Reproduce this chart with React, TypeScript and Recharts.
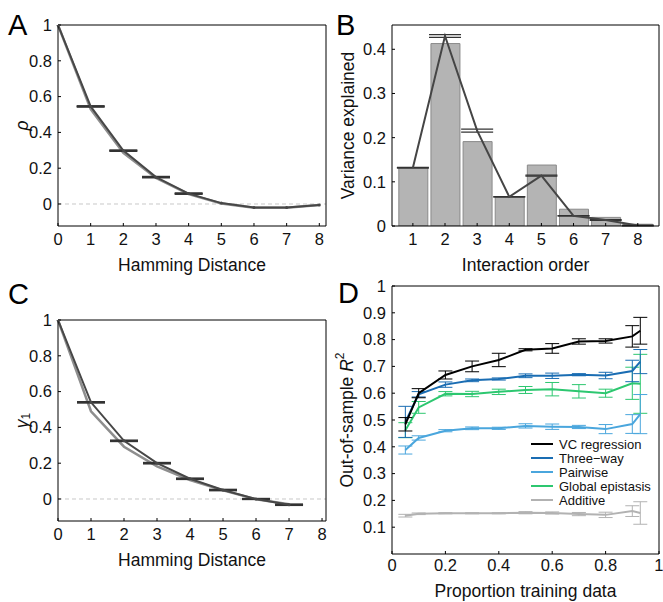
import React from 'react';
import { Bar, ComposedChart, ErrorBar, Line, LineChart, ReferenceLine, XAxis, YAxis } from 'recharts';

const FONT = '"Liberation Sans", Arial, Helvetica, sans-serif';

// Panel A: correlation vs Hamming distance
const hammingA = [0, 1, 2, 3, 4, 5, 6, 7, 8];
const rhoDark = [1, 0.545, 0.298, 0.15, 0.058, 0.005, -0.02, -0.02, -0.005];
const rhoDarkErr = [0, 0.002, 0.002, 0.002, 0.002, 0, 0, 0, 0];
const rhoLight = [1, 0.53, 0.286, 0.145, 0.055, 0.003, -0.021, -0.021, -0.006];

// Panel B: variance explained by interaction order
const orders = [1, 2, 3, 4, 5, 6, 7, 8];
const varBars = [0.132, 0.413, 0.191, 0.065, 0.138, 0.038, 0.0195, 0.004];
const varLine = [0.132, 0.43, 0.216, 0.066, 0.114, 0.023, 0.0135, 0.001];
const varLineErr = [0.0008, 0.003, 0.0035, 0.0008, 0.001, 0.0008, 0.0008, 0.0008];

// Panel C: gamma_1 vs Hamming distance
const hammingC = [0, 1, 2, 3, 4, 5, 6, 7];
const gammaDark = [1, 0.54, 0.325, 0.2, 0.113, 0.05, 0.0, -0.032];
const gammaDarkErr = [0, 0.002, 0.002, 0.002, 0.002, 0.002, 0.001, 0.002];
const gammaLight = [1, 0.49, 0.292, 0.182, 0.106, 0.048, -0.002, -0.03];

// Panel D: out-of-sample R^2 vs training proportion
const trainProp = [0.05, 0.1, 0.2, 0.3, 0.4, 0.5, 0.6, 0.7, 0.8, 0.9, 0.93];
const vcReg = [0.484, 0.6, 0.668, 0.7, 0.724, 0.762, 0.767, 0.793, 0.795, 0.812, 0.833];
const vcRegErr = [0.025, 0.017, 0.015, 0.02, 0.025, 0.004, 0.018, 0.01, 0.008, 0.04, 0.05];
const threeWay = [0.493, 0.596, 0.632, 0.648, 0.653, 0.665, 0.665, 0.669, 0.666, 0.683, 0.718];
const threeWayErr = [0.058, 0.01, 0.01, 0.005, 0.004, 0.007, 0.01, 0.004, 0.012, 0.04, 0.045];
const pairwise = [0.388, 0.433, 0.46, 0.469, 0.469, 0.478, 0.475, 0.474, 0.466, 0.485, 0.522];
const pairwiseErr = [0.015, 0.008, 0.004, 0.005, 0.004, 0.008, 0.01, 0.006, 0.017, 0.035, 0.073];
const globalEp = [0.462, 0.547, 0.598, 0.597, 0.605, 0.612, 0.615, 0.607, 0.6, 0.637, 0.635];
const globalEpErr = [0.028, 0.022, 0.008, 0.01, 0.01, 0.013, 0.025, 0.025, 0.015, 0.06, 0.11];
const additive = [0.143, 0.15, 0.152, 0.152, 0.152, 0.154, 0.153, 0.149, 0.146, 0.16, 0.153];
const additiveErr = [0.005, 0.003, 0.002, 0.002, 0.002, 0.004, 0.004, 0.006, 0.01, 0.02, 0.042];

const dataA = hammingA.map((d, i) => ({ d, dark: rhoDark[i], darkErr: rhoDarkErr[i], light: rhoLight[i] }));
const dataB = orders.map((k, i) => ({ k, bar: varBars[i], line: varLine[i], err: varLineErr[i] }));
const dataC = hammingC.map((d, i) => ({ d, dark: gammaDark[i], darkErr: gammaDarkErr[i], light: gammaLight[i] }));
const dataD = trainProp.map((p, i) => ({
  p,
  vc: vcReg[i],
  vcErr: vcRegErr[i],
  three: threeWay[i],
  threeErr: threeWayErr[i],
  pair: pairwise[i],
  pairErr: pairwiseErr[i],
  glob: globalEp[i],
  globErr: globalEpErr[i],
  add: additive[i],
  addErr: additiveErr[i],
}));

const SERIES_D = [
  { key: 'vc', err: 'vcErr', label: 'VC regression', color: '#000000' },
  { key: 'three', err: 'threeErr', label: 'Three\u2212way', color: '#1a6db3' },
  { key: 'pair', err: 'pairErr', label: 'Pairwise', color: '#4aa6dd' },
  { key: 'glob', err: 'globErr', label: 'Global epistasis', color: '#2dc770' },
  { key: 'add', err: 'addErr', label: 'Additive', color: '#b2b2b2' },
];

const tickStyle = { fill: '#111', fontSize: 16.5, fontFamily: FONT };
const axisLine = { stroke: '#000', strokeWidth: 1 };
const tickLine = { stroke: '#000', strokeWidth: 1 };
const labelStyle = { fill: '#111', fontSize: 17.5, fontFamily: FONT };

// rotated y-axis title, centred on the plot height
const yTitle = (cx: number, parts: React.ReactNode) => (props: any) => {
  const vb = props.viewBox;
  const cy = vb.y + vb.height / 2;
  return (
    <text
      x={cx}
      y={cy}
      transform={`rotate(-90, ${cx}, ${cy})`}
      textAnchor="middle"
      dominantBaseline="central"
      style={labelStyle}
    >
      {parts}
    </text>
  );
};

const panelLetter = (ch: string, left: number, top: number) => (
  <div style={{ position: 'absolute', left, top, fontSize: 29, lineHeight: 1, fontFamily: FONT, color: '#000' }}>{ch}</div>
);

function HammingPanel({ data, xMax, ticks, title }: { data: any[]; xMax: number; ticks: number[]; title: React.ReactNode }) {
  return (
    <LineChart width={330} height={285} data={data} margin={{ top: 25, right: 4, left: 0, bottom: 0 }}>
      <XAxis
        dataKey="d"
        type="number"
        domain={[0, xMax]}
        ticks={ticks}
        tick={tickStyle}
        tickSize={-3}
        tickMargin={10}
        axisLine={axisLine}
        tickLine={tickLine}
        height={59}
        label={{ value: 'Hamming Distance', position: 'insideBottom', offset: 14, style: labelStyle }}
      />
      <YAxis
        type="number"
        domain={[-0.123, 1]}
        ticks={[0, 0.2, 0.4, 0.6, 0.8, 1]}
        tick={tickStyle}
        tickSize={-3}
        tickMargin={9}
        axisLine={axisLine}
        tickLine={tickLine}
        width={58}
        allowDataOverflow
        label={{ content: yTitle(22, title) }}
      />
      <ReferenceLine y={0} stroke="#c8c8c8" strokeDasharray="4 3" />
      <ReferenceLine y={1} stroke="#000" />
      <ReferenceLine x={xMax} stroke="#000" />
      <Line dataKey="light" stroke="#8e8e8e" strokeWidth={2.5} dot={false} isAnimationActive={false} />
      <Line
        dataKey="dark"
        stroke="#474747"
        strokeWidth={2}
        dot={{ r: 1.5, fill: '#474747', stroke: 'none' }}
        isAnimationActive={false}
      >
        <ErrorBar dataKey="darkErr" width={14} stroke="#333" strokeWidth={2} isAnimationActive={false} />
      </Line>
    </LineChart>
  );
}

export default function App() {
  return (
    <div style={{ position: 'absolute', left: 0, top: 0, width: 663, height: 602, background: '#fff', fontFamily: FONT }}>
      <div style={{ position: 'absolute', left: 0, top: 0 }}>
        <HammingPanel data={dataA} xMax={8.205} ticks={hammingA} title={<tspan fontStyle="italic">ρ</tspan>} />
      </div>

      <div style={{ position: 'absolute', left: 0, top: 295 }}>
        <HammingPanel
          data={dataC}
          xMax={8.12}
          ticks={hammingA}
          title={
            <>
              <tspan fontStyle="italic">γ</tspan>
              <tspan fontSize={12} dy={4}>1</tspan>
            </>
          }
        />
      </div>

      <div style={{ position: 'absolute', left: 330, top: 0 }}>
        <ComposedChart width={333} height={285} data={dataB} margin={{ top: 25, right: 4, left: 0, bottom: 0 }}>
          <XAxis
            dataKey="k"
            type="number"
            domain={[0.35, 8.66]}
            ticks={orders}
            tick={tickStyle}
            tickSize={-3}
            tickMargin={10}
            axisLine={axisLine}
            tickLine={tickLine}
            height={59}
            allowDataOverflow
            label={{ value: 'Interaction order', position: 'insideBottom', offset: 14, style: labelStyle }}
          />
          <YAxis
            type="number"
            domain={[0, 0.455]}
            ticks={[0, 0.1, 0.2, 0.3, 0.4]}
            tick={tickStyle}
            tickSize={-3}
            tickMargin={9}
            axisLine={axisLine}
            tickLine={tickLine}
            width={62}
            allowDataOverflow
            label={{ content: yTitle(18, 'Variance explained') }}
          />
          <ReferenceLine y={0.455} stroke="#000" />
          <ReferenceLine x={8.66} stroke="#000" />
          <Bar dataKey="bar" barSize={29} fill="#b4b4b4" stroke="#8a8a8a" strokeWidth={1} isAnimationActive={false} />
          <Line dataKey="line" stroke="#454545" strokeWidth={2} dot={false} isAnimationActive={false}>
            <ErrorBar dataKey="err" width={16} stroke="#333" strokeWidth={1.2} isAnimationActive={false} />
          </Line>
        </ComposedChart>
      </div>

      <div style={{ position: 'absolute', left: 330, top: 261 }}>
        <LineChart width={333} height={341} data={dataD} margin={{ top: 25, right: 4, left: 0, bottom: 0 }}>
          <XAxis
            dataKey="p"
            type="number"
            domain={[0, 1]}
            ticks={[0, 0.2, 0.4, 0.6, 0.8, 1]}
            tick={tickStyle}
            tickSize={-3}
            tickMargin={8}
            axisLine={axisLine}
            tickLine={tickLine}
            height={48}
            label={{ value: 'Proportion training data', position: 'insideBottom', offset: 5, style: labelStyle }}
          />
          <YAxis
            type="number"
            domain={[0, 1]}
            ticks={[0.1, 0.2, 0.3, 0.4, 0.5, 0.6, 0.7, 0.8, 0.9, 1]}
            tick={tickStyle}
            tickSize={-3}
            tickMargin={9}
            axisLine={axisLine}
            tickLine={tickLine}
            width={62}
            label={{
              content: yTitle(
                17,
                <>
                  Out-of-sample <tspan fontStyle="italic">R</tspan>
                  <tspan fontSize={12} dy={-7}>2</tspan>
                </>,
              ),
            }}
          />
          <ReferenceLine y={1} stroke="#000" />
          <ReferenceLine x={1} stroke="#000" />
          {[...SERIES_D].reverse().map((s) => (
            <Line
              key={s.key}
              dataKey={s.key}
              stroke={s.color}
              strokeWidth={2}
              dot={false}
              isAnimationActive={false}
            >
              <ErrorBar dataKey={s.err} width={7} stroke={s.color} strokeWidth={1} isAnimationActive={false} />
            </Line>
          ))}
        </LineChart>
        <div style={{ position: 'absolute', left: 201, top: 176, fontFamily: FONT, fontSize: 13, color: '#111' }}>
          {SERIES_D.map((s) => (
            <div key={s.key} style={{ display: 'flex', alignItems: 'center', height: 14 }}>
              <span style={{ display: 'inline-block', width: 22, height: 2.5, background: s.color, marginRight: 6 }} />
              {s.label}
            </div>
          ))}
        </div>
      </div>

      {panelLetter('A', 8, 11)}
      {panelLetter('B', 336, 11)}
      {panelLetter('C', 8, 280)}
      {panelLetter('D', 338, 279)}
    </div>
  );
}
